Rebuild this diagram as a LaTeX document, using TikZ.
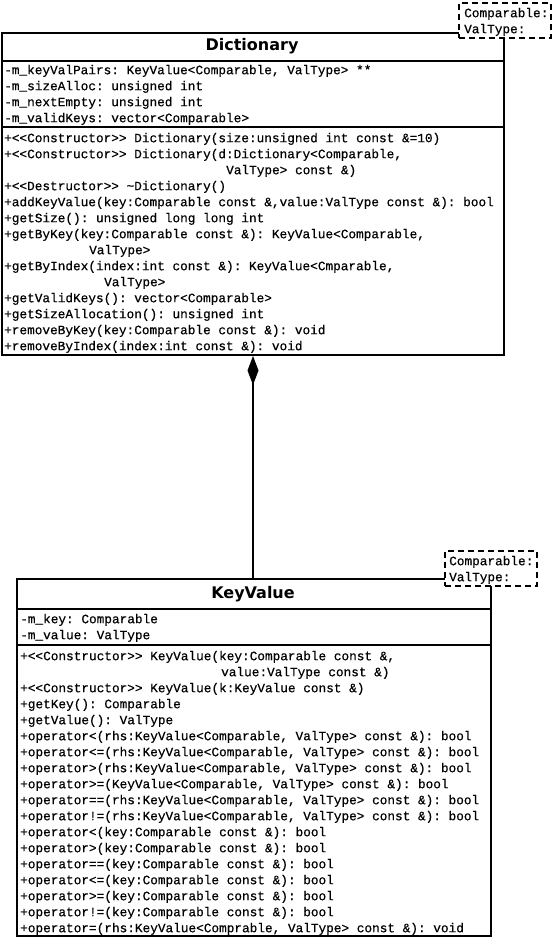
\documentclass[tikz,border=0pt]{standalone}
\usepackage{fontspec}
\setmonofont[FakeBold=0.5]{Liberation Mono}
\newfontfamily\umltitlefont{DejaVu Sans}
\usetikzlibrary{arrows.meta}
\newcommand\umlmono{\fontsize{12.75}{16}\selectfont\ttfamily}
\newcommand\fst{\rule{0pt}{12pt}}
\newcommand\ind[1]{\hspace*{#1pt}}
\begin{document}
\begin{tikzpicture}[x=1pt,y=-1pt,
  classbox/.style={draw, line width=2pt, fill=white, inner sep=0pt, anchor=north west},
  divider/.style={line width=2pt},
  tmplbox/.style={draw, line width=2pt, dash pattern=on 6pt off 4pt, fill=white, inner sep=0pt, anchor=north west},
  titletext/.style={font=\umltitlefont\bfseries\fontsize{16}{18}\selectfont, inner sep=0pt},
  mono/.style={font=\umlmono, anchor=north west, inner sep=0pt, align=left},
  assoc/.style={line width=2pt, -{Diamond[length=29pt,width=11pt]}}]
\useasboundingbox (0,0) rectangle (553,939);

% ---------- Dictionary ----------
\node[classbox, minimum width=502pt, minimum height=322pt] (dict) at (1,32) {};
\draw[divider] (1,61) -- (503,61);
\draw[divider] (1,127) -- (503,127);
\node[titletext] (dictTitle) at (252,46.5) {Dictionary};
\node[mono] (dictAttr) at (4,74-12) {\fst-m\_keyValPairs: KeyValue<Comparable, ValType> **\\
-m\_sizeAlloc: unsigned int\\
-m\_nextEmpty: unsigned int\\
-m\_validKeys: vector<Comparable>};
\node[mono] (dictOps) at (4,142-12) {\fst+<<Constructor>> Dictionary(size:unsigned int const \&=10)\\
+<<Constructor>> Dictionary(d:Dictionary<Comparable,\\
\ind{222}ValType> const \&)\\
+<<Destructor>> \textasciitilde Dictionary()\\
+addKeyValue(key:Comparable const \&,value:ValType const \&): bool\\
+getSize(): unsigned long long int\\
+getByKey(key:Comparable const \&): KeyValue<Comparable,\\
\ind{85}ValType>\\
+getByIndex(index:int const \&): KeyValue<Cmparable,\\
\ind{100}ValType>\\
+getValidKeys(): vector<Comparable>\\
+getSizeAllocation(): unsigned int\\
+removeByKey(key:Comparable const \&): void\\
+removeByIndex(index:int const \&): void};

% ---------- KeyValue ----------
\node[classbox, minimum width=474pt, minimum height=357pt] (kv) at (16,578) {};
\draw[divider] (16,609) -- (490,609);
\draw[divider] (16,645) -- (490,645);
\node[titletext] (kvTitle) at (253,594.5) {KeyValue};
\node[mono] (kvAttr) at (20,623-12) {\fst-m\_key: Comparable\\
-m\_value: ValType};
\node[mono] (kvOps) at (20,660-12) {\fst+<<Constructor>> KeyValue(key:Comparable const \&,\\
\ind{201}value:ValType const \&)\\
+<<Constructor>> KeyValue(k:KeyValue const \&)\\
+getKey(): Comparable\\
+getValue(): ValType\\
+operator<(rhs:KeyValue<Comparable, ValType> const \&): bool\\
+operator<=(rhs:KeyValue<Comparable, ValType> const \&): bool\\
+operator>(rhs:KeyValue<Comparable, ValType> const \&): bool\\
+operator>=(KeyValue<Comparable, ValType> const \&): bool\\
+operator==(rhs:KeyValue<Comparable, ValType> const \&): bool\\
+operator!=(rhs:KeyValue<Comparable, ValType> const \&): bool\\
+operator<(key:Comparable const \&): bool\\
+operator>(key:Comparable const \&): bool\\
+operator==(key:Comparable const \&): bool\\
+operator<=(key:Comparable const \&): bool\\
+operator>=(key:Comparable const \&): bool\\
+operator!=(key:Comparable const \&): bool\\
+operator=(rhs:KeyValue<Comprable, ValType> const \&): void};

% ---------- template parameter boxes ----------
\node[tmplbox, minimum width=92pt, minimum height=35pt] (dictTpl) at (458,2) {};
\node[mono] (dictTplText) at (464,17-12) {\fst Comparable:\\ValType:};
\node[tmplbox, minimum width=92pt, minimum height=35pt] (kvTpl) at (444,550) {};
\node[mono] (kvTplText) at (449,565-12) {\fst Comparable:\\ValType:};

% ---------- composition ----------
\coordinate (kvTop) at (dict.south |- kv.north);
\draw[assoc] (kvTop) -- (dict.south);
\end{tikzpicture}
\end{document}
